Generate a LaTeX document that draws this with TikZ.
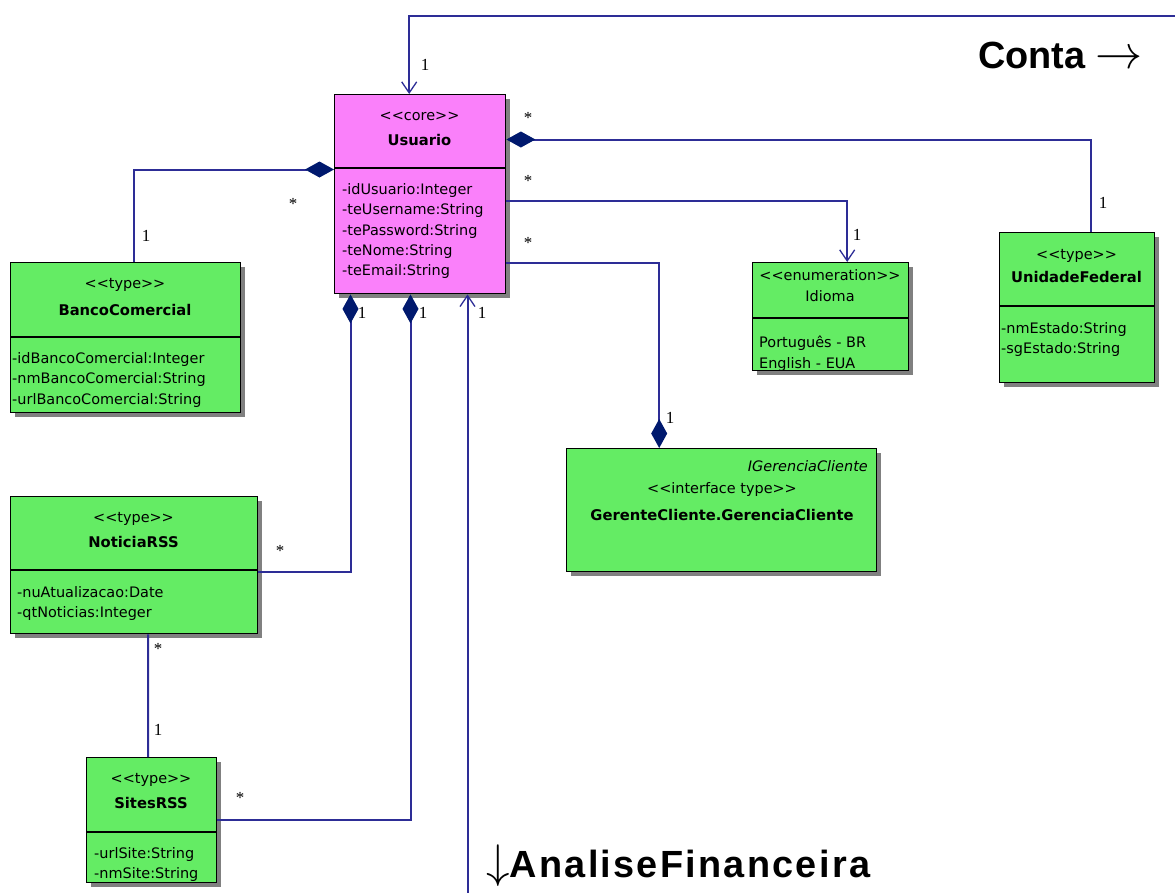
\documentclass[tikz,border=0pt]{standalone}
\usepackage{fontspec}
\setmainfont{DejaVu Sans}
\newfontfamily\multfont{Liberation Serif}
\newfontfamily\headfont{Liberation Sans}
\newfontfamily\headwide[LetterSpace=6]{Liberation Sans}
\usetikzlibrary{arrows.meta,shadows,calc}

% guillemet-free stereotype brackets (kerns stop the << ligature)
\newcommand{\stereotype}[1]{<\kern0pt<#1>\kern0pt>}

\definecolor{umlgreen}{RGB}{100,236,100}
\definecolor{umlpink}{RGB}{250,128,250}
\definecolor{linkblue}{RGB}{45,45,150}
\definecolor{diamondblue}{RGB}{0,25,110}
\definecolor{shadowgray}{RGB}{128,128,128}

\begin{document}
\begin{tikzpicture}[x=1bp,y=-1bp,
  classbox/.style={draw=black, line width=1.4bp, anchor=north west, inner sep=0pt,
    general shadow={fill=shadowgray, shadow xshift=4bp, shadow yshift=-4bp}},
  typebox/.style={classbox, fill=umlgreen},
  corebox/.style={classbox, fill=umlpink},
  divider/.style={draw=black, line width=1.4bp},
  stereo/.style={font=\fontsize{14.5}{20.5}\selectfont, inner sep=0pt},
  cname/.style={font=\fontsize{14.8}{20.5}\selectfont\bfseries, inner sep=0pt},
  attrs/.style={font=\fontsize{14.5}{20.5}\selectfont, align=left, anchor=north west, inner sep=0pt},
  mult/.style={font=\multfont\fontsize{17}{17}\selectfont, inner sep=0pt},
  link/.style={draw=linkblue, line width=2bp},
  compend/.style={-{Diamond[length=29bp,width=16bp,fill=diamondblue,color=diamondblue]}},
  compstart/.style={{Diamond[length=29bp,width=16bp,fill=diamondblue,color=diamondblue]}-},
  navend/.style={-{Straight Barb[length=11bp,width=15bp,line width=1.3bp]}},
  heading/.style={font=\headfont\bfseries\fontsize{38}{40}\selectfont, inner sep=0pt, anchor=west}
]
\useasboundingbox (0,0) rectangle (1175,893);

% ---------- classes ----------
\node[corebox, minimum width=171bp, minimum height=199bp] (usuario) at (334,94) {};
\node[stereo] (usuario-st) at (419.5,116) {\stereotype{core}};
\node[cname] (usuario-nm) at (419.5,140) {Usuario};
\draw[divider] ([yshift=-74bp]usuario.north west) -- ([yshift=-74bp]usuario.north east);
\node[attrs] (usuario-at) at (342,183) {-idUsuario:Integer\\-teUsername:String\\-tePassword:String\\-teNome:String\\-teEmail:String};

\node[typebox, minimum width=230bp, minimum height=150bp] (banco) at (10,262) {};
\node[stereo] (banco-st) at (125,285) {\stereotype{type}};
\node[cname] (banco-nm) at (125,310) {BancoComercial};
\draw[divider] ([yshift=-75bp]banco.north west) -- ([yshift=-75bp]banco.north east);
\node[attrs] (banco-at) at (12,352) {-idBancoComercial:Integer\\-nmBancoComercial:String\\-urlBancoComercial:String};

\node[typebox, minimum width=156bp, minimum height=108bp] (idioma) at (752,262) {};
\node[stereo] (idioma-st) at (830,275) {\stereotype{enumeration}};
\node[stereo] (idioma-nm) at (830,296) {Idioma};
\draw[divider] ([yshift=-56bp]idioma.north west) -- ([yshift=-56bp]idioma.north east);
\node[attrs] (idioma-at) at (759,336) {Português - BR\\English - EUA};

\node[typebox, minimum width=155bp, minimum height=150bp] (uf) at (999,232) {};
\node[stereo] (uf-st) at (1076.5,256) {\stereotype{type}};
\node[cname] (uf-nm) at (1076.5,277) {UnidadeFederal};
\draw[divider] ([yshift=-74bp]uf.north west) -- ([yshift=-74bp]uf.north east);
\node[attrs] (uf-at) at (1001,322) {-nmEstado:String\\-sgEstado:String};

\node[typebox, minimum width=310bp, minimum height=123bp] (gerente) at (566,448) {};
\node[stereo, font=\fontsize{14.5}{20.5}\selectfont\itshape, anchor=east] (gerente-if) at (868,466) {IGerenciaCliente};
\node[stereo] (gerente-st) at (722,490) {\stereotype{interface type}};
\node[cname] (gerente-nm) at (722,515) {GerenteCliente.GerenciaCliente};

\node[typebox, minimum width=247bp, minimum height=137bp] (noticia) at (10,496) {};
\node[stereo] (noticia-st) at (133.5,519) {\stereotype{type}};
\node[cname] (noticia-nm) at (133.5,542) {NoticiaRSS};
\draw[divider] ([yshift=-74bp]noticia.north west) -- ([yshift=-74bp]noticia.north east);
\node[attrs] (noticia-at) at (17,586) {-nuAtualizacao:Date\\-qtNoticias:Integer};

\node[typebox, minimum width=130bp, minimum height=125bp] (sites) at (86,757) {};
\node[stereo] (sites-st) at (151,780) {\stereotype{type}};
\node[cname] (sites-nm) at (151,803) {SitesRSS};
\draw[divider] ([yshift=-75bp]sites.north west) -- ([yshift=-75bp]sites.north east);
\node[attrs] (sites-at) at (94,847) {-urlSite:String\\-nmSite:String};

% ---------- connectors ----------
\coordinate (ctop) at (1175,15.5);
\coordinate (cbot) at (467.5,893);
\draw[link, navend] (ctop) -| ([xshift=-11bp]usuario.north);
\draw[link, compend] ([xshift=8.5bp]banco.north) |- ([yshift=-75.5bp]usuario.north west);
\draw[link, compend] ([xshift=14bp]uf.north) |- ([yshift=-45.5bp]usuario.north east);
\draw[link, compstart, navend] ([yshift=-106.5bp]usuario.north east) -| ([xshift=16.5bp]idioma.north);
\draw[link, compend] ([yshift=-168.5bp]usuario.north east) -| ([xshift=-62.5bp]gerente.north);
\draw[link, compstart] ([xshift=16.5bp]usuario.south west) |- ([yshift=-75.5bp]noticia.north east);
\draw[link, compstart] ([xshift=76.5bp]usuario.south west) |- ([yshift=-62.5bp]sites.north east);
\draw[link, navend] (cbot) -- (cbot |- usuario.south);
\draw[link] ([xshift=14bp]noticia.south) -- ([xshift=-3.5bp]sites.north);

% ---------- multiplicities ----------
\node[mult] (m1) at (425,65) {1};
\node[mult] (m2) at (293,204) {*};
\node[mult] (m3) at (146,236) {1};
\node[mult] (m4) at (528,118) {*};
\node[mult] (m5) at (1103,203) {1};
\node[mult] (m6) at (528,181) {*};
\node[mult] (m7) at (857,235) {1};
\node[mult] (m8) at (528,243) {*};
\node[mult] (m9) at (670,418) {1};
\node[mult] (m10) at (362,313) {1};
\node[mult] (m11) at (280,551) {*};
\node[mult] (m12) at (423,313) {1};
\node[mult] (m13) at (240,798) {*};
\node[mult] (m14) at (482,313) {1};
\node[mult] (m15) at (158,649) {*};
\node[mult] (m16) at (158,730) {1};

% ---------- package headings ----------
\node[heading] (conta) at (978,55) {Conta {\fontsize{24}{24}\selectfont\scalebox{1.9}{$\rightarrow$}}};
\node[heading] (analise) at (486,866) {{\fontsize{24}{24}\selectfont\scalebox{1.9}{$\downarrow$}}{\headwide\bfseries AnaliseFinanceira}};
\end{tikzpicture}
\end{document}
